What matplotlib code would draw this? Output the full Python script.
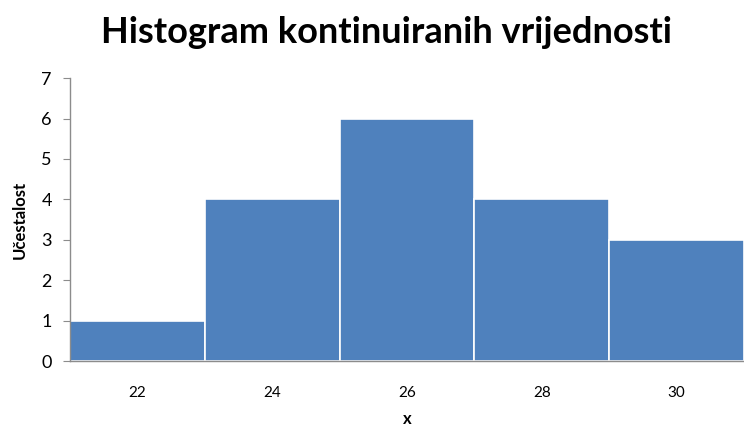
import matplotlib

matplotlib.use("Agg")
import matplotlib.pyplot as plt

categories = ["22", "24", "26", "28", "30"]
counts = [1, 4, 6, 4, 3]

plt.rcParams["font.family"] = ["Lato", "DejaVu Sans"]

fig = plt.figure(figsize=(7.44, 4.29), dpi=100)
ax = fig.add_axes([0.094, 0.158, 0.906, 0.66])

pos = range(len(categories))
ax.bar(pos, counts, width=1.0, color="#4F81BD", edgecolor="white", linewidth=1.2)

ax.set_xlim(-0.5, len(categories) - 0.5)
ax.set_ylim(0, 7)
ax.set_yticks(range(0, 8))
ax.set_xticks(list(pos))
ax.set_xticklabels(categories)

for s in ["top", "right"]:
    ax.spines[s].set_visible(False)
for s in ["left", "bottom"]:
    ax.spines[s].set_color("#8c8c8c")
    ax.spines[s].set_linewidth(1)

ax.tick_params(axis="y", length=5, color="#8c8c8c", labelsize=13, pad=8)
ax.tick_params(axis="x", length=0, labelsize=11, pad=18)

ax.set_xlabel("x", fontsize=12, fontweight="bold", labelpad=8)
ax.set_ylabel("Učestalost", fontsize=12, fontweight="bold", labelpad=10)
fig.suptitle("Histogram kontinuiranih vrijednosti", fontsize=26, fontweight="bold",
             x=0.52, y=0.925, va="center")

fig.savefig("out.png", dpi=100)
